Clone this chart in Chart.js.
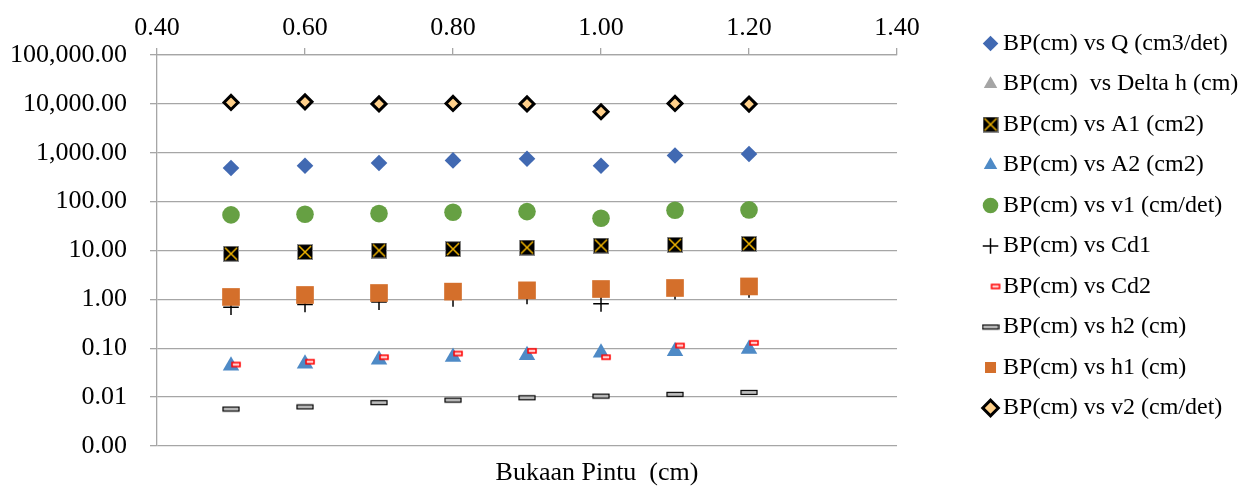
<!DOCTYPE html>
<html>
<head>
<meta charset="utf-8">
<title>Bukaan Pintu</title>
<script src="https://cdn.jsdelivr.net/npm/chart.js@4.4.0/dist/chart.umd.min.js"></script>
<style>
  html, body { margin: 0; padding: 0; background: #fff; }
  #wrap { position: relative; width: 1250px; height: 488px; }
</style>
</head>
<body>
<div id="wrap"><canvas id="chart"></canvas></div>
<script>
const bukaanPintu = [0.5, 0.6, 0.7, 0.8, 0.9, 1.0, 1.1, 1.2];
const qValues = [487, 543, 616, 697, 754, 543, 881, 941];
const deltaHValues = [1.11, 1.22, 1.34, 1.43, 1.52, 1.62, 1.7, 1.83];
const a1Values = [8.6, 9.3, 10.0, 10.7, 11.5, 12.6, 13.1, 13.7];
const a2Values = [0.044, 0.048, 0.058, 0.066, 0.072, 0.081, 0.087, 0.097];
const v1Values = [53.5, 55.3, 56.9, 60.8, 62.5, 45.8, 66.8, 67.7];
const cd1Values = [0.69, 0.79, 0.88, 1.02, 1.15, 0.81, 1.44, 1.55];
const cd2Values = [0.0465, 0.053, 0.0655, 0.078, 0.0885, 0.0655, 0.1135, 0.129];
const h2Values = [0.0057, 0.0063, 0.0077, 0.0087, 0.0097, 0.0105, 0.0114, 0.0125];
const h1Values = [1.12, 1.23, 1.35, 1.44, 1.53, 1.63, 1.71, 1.84];
const v2Values = [10700, 11000, 10000, 10200, 10000, 6900, 10200, 9900];

const yTicks = [0.001, 0.01, 0.1, 1, 10, 100, 1000, 10000, 100000];
const xTitle = "Bukaan Pintu  (cm)";

const FONT = '"Liberation Serif", "Times New Roman", serif';
const GRID = "#a6a6a6";

// small canvases for the Excel markers Chart.js has no style for
function makeMarker(w, h, draw) {
  const c = document.createElement("canvas");
  c.width = w;
  c.height = h;
  draw(c.getContext("2d"));
  return c;
}

const a1Marker = makeMarker(16, 16, (ctx) => {
  ctx.fillStyle = "#000";
  ctx.fillRect(0.5, 0.5, 15, 15);
  ctx.strokeStyle = "#8c8c8c";
  ctx.lineWidth = 1;
  ctx.strokeRect(0.5, 0.5, 15, 15);
  ctx.strokeStyle = "#f0b400";
  ctx.lineWidth = 1.5;
  ctx.beginPath();
  ctx.moveTo(2, 2);
  ctx.lineTo(14, 14);
  ctx.moveTo(14, 2);
  ctx.lineTo(2, 14);
  ctx.stroke();
});

const cd2Marker = makeMarker(28, 8, (ctx) => {
  ctx.fillStyle = "#ffd2d2";
  ctx.fillRect(15, 2, 8, 4);
  ctx.strokeStyle = "#ff0000";
  ctx.lineWidth = 1.5;
  ctx.strokeRect(15, 2, 8, 4);
});

const h2Marker = makeMarker(18, 7, (ctx) => {
  ctx.fillStyle = "#c0c0c0";
  ctx.fillRect(1, 1.5, 16, 4);
  ctx.strokeStyle = "#000";
  ctx.lineWidth = 1.2;
  ctx.strokeRect(1, 1.5, 16, 4);
});

function series(label, values, style) {
  return {
    label,
    data: bukaanPintu.map((x, i) => ({ x, y: values[i] })),
    borderWidth: 0,
    ...style,
  };
}

const datasets = [
  series("BP(cm) vs Q (cm3/det)", qValues, {
    pointStyle: "rectRot", pointRadius: 8.3, backgroundColor: "#4169b2", borderColor: "#4169b2",
  }),
  series("BP(cm)  vs Delta h (cm)", deltaHValues, {
    pointStyle: "triangle", pointRadius: 8, backgroundColor: "#a5a5a5", borderColor: "#a5a5a5",
  }),
  series("BP(cm) vs A1 (cm2)", a1Values, {
    pointStyle: a1Marker, pointRadius: 8, backgroundColor: "#000", borderColor: "#f0b400",
  }),
  series("BP(cm) vs A2 (cm2)", a2Values, {
    pointStyle: "triangle", pointRadius: 9.5, backgroundColor: "#4e8ac6", borderColor: "#4e8ac6",
  }),
  series("BP(cm) vs v1 (cm/det)", v1Values, {
    pointStyle: "circle", pointRadius: 8.8, backgroundColor: "#66a043", borderColor: "#66a043",
  }),
  series("BP(cm) vs Cd1", cd1Values, {
    pointStyle: "cross", pointRadius: 7.8, borderWidth: 1.5, backgroundColor: "#000", borderColor: "#000",
  }),
  series("BP(cm) vs Cd2", cd2Values, {
    pointStyle: cd2Marker, pointRadius: 4, backgroundColor: "#ffd2d2", borderColor: "#ff0000",
  }),
  series("BP(cm) vs h2 (cm)", h2Values, {
    pointStyle: h2Marker, pointRadius: 8, backgroundColor: "#c0c0c0", borderColor: "#000",
  }),
  series("BP(cm) vs h1 (cm)", h1Values, {
    pointStyle: "rect", pointRadius: 12.5, backgroundColor: "#d46f2b", borderColor: "#d46f2b",
  }),
  series("BP(cm) vs v2 (cm/det)", v2Values, {
    pointStyle: "rectRot", pointRadius: 7, borderWidth: 3, backgroundColor: "#ffd08a", borderColor: "#000",
  }),
];

// Excel draws later series on top, Chart.js the other way round
datasets.forEach((ds, i) => {
  ds.order = datasets.length - i;
});

const bottomTitle = {
  id: "bottomTitle",
  afterDraw(chart) {
    const { ctx, chartArea } = chart;
    ctx.save();
    ctx.font = "26px " + FONT;
    ctx.fillStyle = "#000";
    ctx.textAlign = "center";
    ctx.textBaseline = "middle";
    ctx.fillText(xTitle, chartArea.left + 440, chartArea.bottom + 27);
    ctx.restore();
  },
};

new Chart(document.getElementById("chart"), {
  type: "scatter",
  data: { datasets },
  plugins: [bottomTitle],
  options: {
    responsive: true,
    maintainAspectRatio: false,
    animation: false,
    layout: { autoPadding: false, padding: { left: 0, right: 1.7, top: 15, bottom: 42 } },
    scales: {
      x: {
        type: "linear",
        position: "top",
        min: 0.4,
        max: 1.4,
        afterFit: (axis) => {
          axis.height = 40;
        },
        grid: { drawOnChartArea: false, color: GRID, tickLength: 7, lineWidth: 1.3 },
        border: { color: GRID, width: 1.3 },
        ticks: {
          stepSize: 0.2,
          padding: 11,
          color: "#000",
          font: { family: FONT, size: 26, lineHeight: 0.7 },
          callback: (v) => Number(v).toFixed(2),
        },
      },
      y: {
        type: "logarithmic",
        position: "left",
        min: 0.001,
        max: 100000,
        afterBuildTicks: (axis) => {
          axis.ticks = yTicks.map((v) => ({ value: v }));
        },
        afterFit: (axis) => {
          axis.width = 157;
        },
        grid: { color: GRID, tickLength: 7, lineWidth: 1.3 },
        border: { color: GRID, width: 1.3 },
        ticks: {
          padding: 23,
          color: "#000",
          autoSkip: false,
          font: { family: FONT, size: 26 },
          callback: (v) =>
            Number(v).toLocaleString("en-US", { minimumFractionDigits: 2, maximumFractionDigits: 2 }),
        },
      },
      // empty axis that only keeps the legend away from the plot
      gap: {
        type: "linear",
        position: "right",
        display: true,
        grid: { display: false },
        border: { display: false },
        ticks: { display: false },
        afterFit: (axis) => {
          axis.width = 76.5;
        },
      },
    },
    plugins: {
      tooltip: { enabled: false },
      legend: {
        position: "right",
        align: "start",
        maxWidth: 300,
        labels: {
          usePointStyle: true,
          boxWidth: 1,
          boxHeight: 11,
          padding: 16.5,
          color: "#000",
          font: { family: FONT, size: 24 },
          sort: (a, b) => a.datasetIndex - b.datasetIndex,
        },
      },
    },
  },
});
</script>
</body>
</html>
